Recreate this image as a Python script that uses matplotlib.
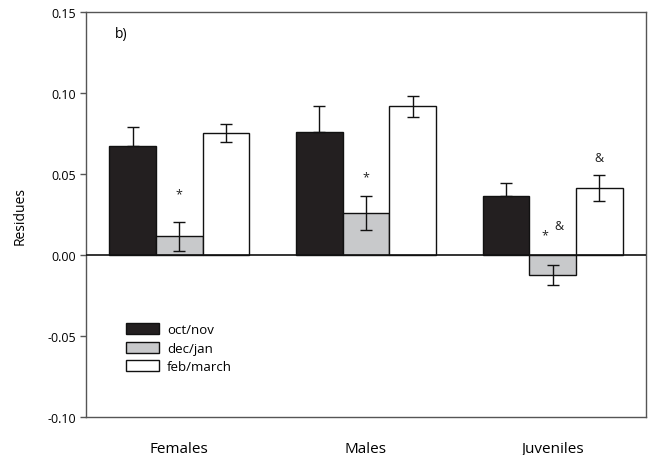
import matplotlib

matplotlib.use("Agg")
import matplotlib.pyplot as plt  # noqa: E402
import numpy as np  # noqa: E402
from matplotlib.patches import Patch  # noqa: E402

plt.rcParams["font.family"] = ["Open Sans", "DejaVu Sans"]

groups = ["Females", "Males", "Juveniles"]
seasons = ["oct/nov", "dec/jan", "feb/march"]
colors = ["#231f20", "#c8c9cb", "#ffffff"]

means = {
    "oct/nov": [0.0675, 0.0757, 0.0362],
    "dec/jan": [0.0115, 0.0259, -0.0123],
    "feb/march": [0.0753, 0.0918, 0.0414],
}
errs = {
    "oct/nov": [0.0113, 0.0161, 0.0084],
    "dec/jan": [0.0091, 0.0103, 0.0064],
    "feb/march": [0.0058, 0.0066, 0.0079],
}

# significance marks: (group, season, text, y)
marks = [
    (0, 1, "*", 0.038),
    (1, 1, "*", 0.048),
    (2, 1, "*", 0.0125),
    (2, 1, "&", 0.0185),
    (2, 2, "&", 0.060),
]
mark_dx = [0.0, 0.0, -0.04, 0.035, 0.0]

fig = plt.figure(figsize=(6.51, 4.56), dpi=100)
ax = fig.add_axes([0.1321, 0.0833, 0.8602, 0.8882])

x = np.arange(len(groups))
w = 0.25
for i, s in enumerate(seasons):
    ax.bar(x + (i - 1) * w, means[s], w, color=colors[i], edgecolor="#111111",
           linewidth=1.0, zorder=2)
    e = np.array(errs[s])
    # lower arm of the error bar vanishes inside the dark bars
    lower = np.zeros_like(e) if i == 0 else e
    ax.errorbar(x + (i - 1) * w, means[s], yerr=[lower, e], fmt="none",
                ecolor="#111111", elinewidth=1.0, capsize=4.3, capthick=1.0,
                zorder=3)

ax.axhline(0, color="#111111", lw=1.2, zorder=4)

for (g, si, txt, y), dx in zip(marks, mark_dx):
    ax.text(g + (si - 1) * w + dx, y, txt, ha="center", va="center",
            fontsize=9, color="#222222")

ax.text(0.052, 0.946, "b)", transform=ax.transAxes, fontsize=10, va="center")

ax.set_xlim(-0.5, 2.5)
ax.set_ylim(-0.10, 0.15)
ax.set_yticks([-0.10, -0.05, 0.00, 0.05, 0.10, 0.15])
ax.set_yticklabels(["-0.10", "-0.05", "0.00", "0.05", "0.10", "0.15"])
ax.set_xticks(x)
ax.set_xticklabels(groups, fontsize=11)
ax.tick_params(axis="x", length=0, pad=17)
ax.tick_params(axis="y", direction="out", length=4.3, width=1.0,
               color="#555555", labelsize=9, pad=3)
for sp in ax.spines.values():
    sp.set_color("#555555")
    sp.set_linewidth(1.0)

ax.set_ylabel("Residues", fontsize=10, labelpad=14)

handles = [Patch(facecolor=c, edgecolor="#111111", lw=1.0) for c in colors]
ax.legend(handles, seasons, loc="upper left", bbox_to_anchor=(0.062, 0.245),
          frameon=False, fontsize=9.5, handlelength=2.5, handleheight=0.95,
          handletextpad=0.6, labelspacing=0.4, borderaxespad=0)

fig.savefig("out.png", dpi=100)
